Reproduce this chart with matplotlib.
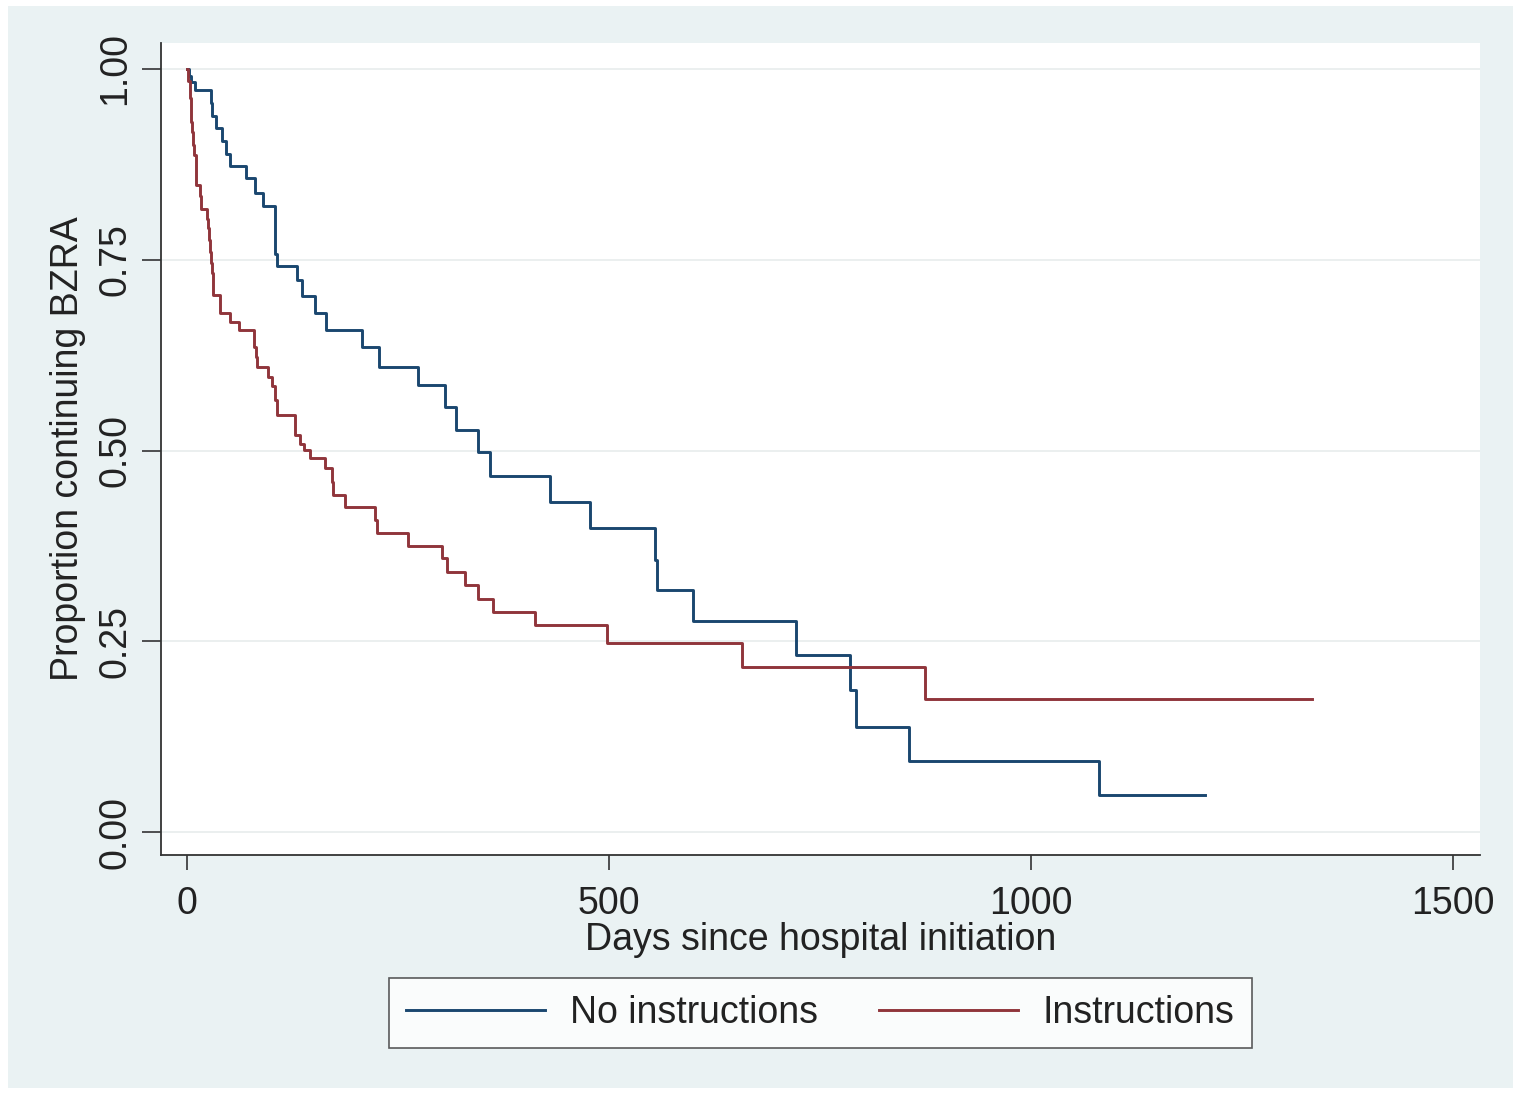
import matplotlib
matplotlib.use("Agg")
import matplotlib.pyplot as plt
from matplotlib.lines import Line2D
from matplotlib.patches import Rectangle

plt.rcParams['font.family'] = ['Liberation Sans', 'DejaVu Sans']

# Kaplan-Meier estimates: days since hospital initiation and proportion still on BZRA
days_no_instr = [0, 2, 4, 9, 28, 30, 34, 41, 46, 51, 70, 80, 90, 104, 106, 130, 136,
                 152, 165, 207, 227, 274, 306, 318, 345, 359, 430, 477, 554, 557,
                 600, 722, 786, 792, 855, 1080, 1206]
surv_no_instr = [1.000, 0.991, 0.983, 0.972, 0.955, 0.938, 0.922, 0.905, 0.889, 0.873,
                 0.857, 0.838, 0.820, 0.758, 0.742, 0.723, 0.702, 0.680, 0.658, 0.636,
                 0.610, 0.586, 0.557, 0.527, 0.498, 0.466, 0.433, 0.398, 0.357, 0.317,
                 0.277, 0.232, 0.186, 0.138, 0.093, 0.048, 0.048]

days_instr = [0, 1, 3, 4, 5, 6, 7, 8, 10, 11, 15, 16, 23, 25, 26, 27, 28, 29, 31, 39,
              51, 61, 79, 81, 83, 96, 100, 104, 106, 128, 134, 138, 146, 163, 172, 173,
              187, 223, 225, 262, 302, 308, 329, 345, 363, 412, 497, 657, 874, 1333]
surv_instr = [1.000, 0.984, 0.962, 0.945, 0.930, 0.918, 0.900, 0.887, 0.868, 0.848,
              0.833, 0.817, 0.804, 0.791, 0.776, 0.760, 0.746, 0.732, 0.704, 0.680,
              0.669, 0.658, 0.636, 0.623, 0.610, 0.597, 0.584, 0.566, 0.547, 0.520,
              0.509, 0.501, 0.490, 0.477, 0.459, 0.442, 0.426, 0.409, 0.392, 0.375,
              0.359, 0.341, 0.324, 0.306, 0.289, 0.271, 0.248, 0.217, 0.174, 0.174]

group_labels = ["No instructions", "Instructions"]
x_ticks = [0, 500, 1000, 1500]
y_ticks = [0.00, 0.25, 0.50, 0.75, 1.00]

blue = "#1a476f"
red = "#90353b"
bg = "#eaf2f3"
ink = "#222222"
fs = 27

fig = plt.figure(figsize=(15.21, 10.96), dpi=100, facecolor="white")
fig.patches.append(Rectangle((8 / 1521, 8 / 1096), 1 - 16 / 1521, 1 - 14 / 1096,
                             transform=fig.transFigure, facecolor=bg,
                             edgecolor="none", zorder=-10))

ax = fig.add_axes([161 / 1521, 1 - 855 / 1096, (1480 - 161) / 1521, (855 - 43) / 1096])
ax.set_facecolor("white")

ax.step(days_no_instr, surv_no_instr, where="post", color=blue, lw=2.1,
        label=group_labels[0], zorder=3)
ax.step(days_instr, surv_instr, where="post", color=red, lw=2.1,
        label=group_labels[1], zorder=3)

ax.set_xlim(-31, 1532)
ax.set_ylim(-0.030, 1.034)

ax.set_xticks(x_ticks)
ax.set_xticklabels([str(t) for t in x_ticks])
ax.set_yticks(y_ticks)
ax.set_yticklabels([f"{t:.2f}" for t in y_ticks], rotation=90, va="center")
ax.tick_params(axis="both", width=1.2, color="#333333",
               labelsize=fs, labelcolor=ink)
ax.tick_params(axis="x", length=11, pad=11)
ax.tick_params(axis="y", length=14, pad=6)

ax.grid(axis="y", color="#e8ecec", lw=1.2, zorder=0)
ax.grid(axis="x", visible=False)

for side in ["top", "right"]:
    ax.spines[side].set_visible(False)
for side in ["left", "bottom"]:
    ax.spines[side].set_color("#333333")
    ax.spines[side].set_linewidth(1.3)

ax.set_xlabel("Days since hospital initiation", fontsize=fs, color=ink, labelpad=0)
ax.set_ylabel("Proportion continuing BZRA", fontsize=fs, color=ink, labelpad=8)

handles = [Line2D([], [], color=blue, lw=2.1), Line2D([], [], color=red, lw=2.1)]
leg = fig.legend(handles, group_labels, loc="center",
                 bbox_to_anchor=((385 + 1256) / 2 / 1521, 1 - 1013 / 1096),
                 ncol=2, fontsize=fs, frameon=True, fancybox=False,
                 handlelength=3.7, handletextpad=0.67, columnspacing=1.63,
                 borderpad=0.45, labelcolor=ink)
leg.get_frame().set_edgecolor("#333333")
leg.get_frame().set_linewidth(1.2)
leg.get_frame().set_facecolor("white")

fig.savefig("out.png", dpi=100, facecolor=fig.get_facecolor())
